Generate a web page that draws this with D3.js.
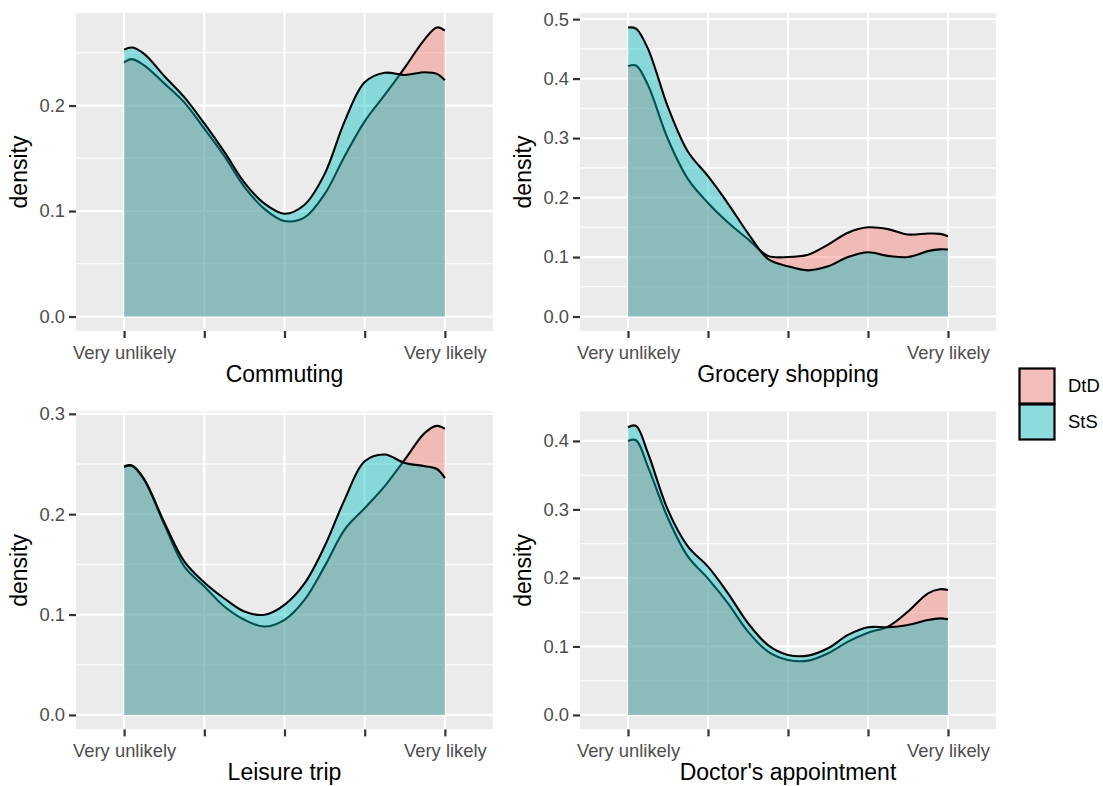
<!DOCTYPE html>
<html><head><meta charset="utf-8">
<script src="https://cdn.jsdelivr.net/npm/d3@7/dist/d3.min.js"></script>
<style>
body{margin:0;background:#fff}
text{font-family:"Liberation Sans",Arial,Helvetica,sans-serif}
</style>
</head><body>
<svg id="chart" width="1103" height="786"></svg>
<script>
// ---- data ----
const xGrid = [1, 1.1, 1.25, 1.5, 1.75, 2, 2.25, 2.5, 2.75, 3, 3.25, 3.5, 3.75, 4, 4.25, 4.5, 4.75, 4.9, 5];
const xBreaks = [1, 2, 3, 4, 5];
const xLabels = ["Very unlikely", "", "", "", "Very likely"];
const seriesNames = ["DtD", "StS"];
const seriesColors = ["#F8766D", "#00BFC4"];
const panelTitles = ["Commuting", "Grocery shopping", "Leisure trip", "Doctor's appointment"];

const commutingDtD = [0.241, 0.244, 0.238, 0.221, 0.203, 0.178, 0.152, 0.123, 0.102, 0.0905, 0.094, 0.116, 0.152, 0.185, 0.210, 0.236, 0.263, 0.274, 0.271];
const commutingStS = [0.253, 0.255, 0.249, 0.228, 0.208, 0.183, 0.156, 0.127, 0.107, 0.0975, 0.106, 0.135, 0.185, 0.222, 0.231, 0.229, 0.2315, 0.230, 0.224];

const groceryDtD = [0.421, 0.422, 0.389, 0.298, 0.231, 0.191, 0.158, 0.130, 0.102, 0.100, 0.104, 0.121, 0.141, 0.150, 0.147, 0.138, 0.1395, 0.139, 0.135];
const groceryStS = [0.486, 0.484, 0.450, 0.352, 0.277, 0.236, 0.190, 0.140, 0.097, 0.0845, 0.0777, 0.0845, 0.100, 0.108, 0.102, 0.100, 0.110, 0.113, 0.1126];

const leisureDtD = [0.247, 0.248, 0.234, 0.190, 0.148, 0.128, 0.108, 0.0948, 0.0881, 0.0948, 0.1147, 0.148, 0.1846, 0.206, 0.228, 0.2544, 0.281, 0.288, 0.285];
const leisureStS = [0.2475, 0.2485, 0.235, 0.192, 0.153, 0.132, 0.116, 0.103, 0.0998, 0.1097, 0.131, 0.168, 0.2145, 0.2527, 0.2594, 0.251, 0.2478, 0.245, 0.236];

const doctorDtD = [0.400, 0.401, 0.362, 0.287, 0.231, 0.199, 0.163, 0.1217, 0.0925, 0.0803, 0.0793, 0.090, 0.107, 0.120, 0.129, 0.151, 0.1776, 0.1835, 0.1825];
const doctorStS = [0.420, 0.422, 0.382, 0.299, 0.2457, 0.2165, 0.1776, 0.134, 0.102, 0.0876, 0.0866, 0.0973, 0.1168, 0.128, 0.128, 0.1314, 0.1387, 0.141, 0.1397];

const yBreaksCommuting = [0, 0.1, 0.2];
const yBreaksGrocery = [0, 0.1, 0.2, 0.3, 0.4, 0.5];
const yBreaksLeisure = [0, 0.1, 0.2, 0.3];
const yBreaksDoctor = [0, 0.1, 0.2, 0.3, 0.4];

// ---- layout ----
const cols = [{left: 76, right: 493}, {left: 580, right: 996}];
const rows = [{top: 13, bottom: 331}, {top: 411.4, bottom: 729.4}];
const panels = [
  {title: panelTitles[0], col: 0, row: 0, data: [commutingDtD, commutingStS], yBreaks: yBreaksCommuting},
  {title: panelTitles[1], col: 1, row: 0, data: [groceryDtD, groceryStS], yBreaks: yBreaksGrocery},
  {title: panelTitles[2], col: 0, row: 1, data: [leisureDtD, leisureStS], yBreaks: yBreaksLeisure},
  {title: panelTitles[3], col: 1, row: 1, data: [doctorDtD, doctorStS], yBreaks: yBreaksDoctor}
];
const fillAlpha = 0.42;
const tickFont = 18.4, titleFont = 23;

const svg = d3.select("#chart");

panels.forEach(p => {
  const c = cols[p.col], r = rows[p.row];
  const x = d3.scaleLinear().domain([0.4, 5.6]).range([c.left, c.right]);
  const maxV = d3.max(p.data.flat());
  const y = d3.scaleLinear().domain([-0.05 * maxV, 1.05 * maxV]).range([r.bottom, r.top]);
  const g = svg.append("g");

  g.append("rect").attr("x", c.left).attr("y", r.top)
    .attr("width", c.right - c.left).attr("height", r.bottom - r.top).attr("fill", "#EBEBEB");

  // minor y grid
  const step = p.yBreaks[1] - p.yBreaks[0];
  const minor = p.yBreaks.map(b => b + step / 2).concat([p.yBreaks[0] - step / 2])
    .filter(v => v > y.domain()[0] && v < y.domain()[1]);
  g.selectAll(".minor").data(minor).join("line")
    .attr("x1", c.left).attr("x2", c.right)
    .attr("y1", d => y(d)).attr("y2", d => y(d))
    .attr("stroke", "#fff").attr("stroke-width", 1.1);
  // major grid
  g.selectAll(".majy").data(p.yBreaks).join("line")
    .attr("x1", c.left).attr("x2", c.right)
    .attr("y1", d => y(d)).attr("y2", d => y(d))
    .attr("stroke", "#fff").attr("stroke-width", 2.2);
  g.selectAll(".majx").data(xBreaks).join("line")
    .attr("y1", r.top).attr("y2", r.bottom)
    .attr("x1", d => x(d)).attr("x2", d => x(d))
    .attr("stroke", "#fff").attr("stroke-width", 2.2);

  const area = d3.area().x((d, i) => x(xGrid[i])).y0(y(0)).y1(d => y(d))
    .curve(d3.curveCatmullRom.alpha(0.5));
  const line = d3.line().x((d, i) => x(xGrid[i])).y(d => y(d))
    .curve(d3.curveCatmullRom.alpha(0.5));

  p.data.forEach((vals, si) => {
    g.append("path").attr("d", area(vals))
      .attr("fill", seriesColors[si]).attr("fill-opacity", fillAlpha);
    g.append("path").attr("d", line(vals))
      .attr("fill", "none").attr("stroke", "#000").attr("stroke-width", 2.1);
  });

  // axes
  const ya = g.append("g").attr("transform", `translate(${c.left},0)`)
    .call(d3.axisLeft(y).tickValues(p.yBreaks).tickFormat(d3.format(".1f")).tickSize(7).tickPadding(4));
  const xa = g.append("g").attr("transform", `translate(0,${r.bottom})`)
    .call(d3.axisBottom(x).tickValues(xBreaks).tickFormat((d, i) => xLabels[i]).tickSize(7).tickPadding(7.5));
  [ya, xa].forEach(a => {
    a.select(".domain").remove();
    a.selectAll(".tick line").attr("stroke", "#333").attr("stroke-width", 2.2);
    a.selectAll(".tick text").attr("fill", "#4D4D4D").style("font-size", tickFont + "px")
      .style("font-family", '"Liberation Sans",Arial,sans-serif');
  });

  // titles
  g.append("text").attr("x", (c.left + c.right) / 2).attr("y", r.bottom + 51)
    .attr("text-anchor", "middle").style("font-size", titleFont + "px").text(p.title);
  g.append("text").attr("transform", `translate(${c.left - 49.3},${(r.top + r.bottom) / 2}) rotate(-90)`)
    .attr("text-anchor", "middle").style("font-size", titleFont + "px").text("density");
});

// legend
const lg = svg.append("g");
seriesNames.forEach((s, i) => {
  const yy = 368.5 + i * 36;
  lg.append("rect").attr("x", 1019.5).attr("y", yy).attr("width", 35).attr("height", 35).attr("fill", "#F2F2F2");
  lg.append("rect").attr("x", 1019.5).attr("y", yy).attr("width", 35).attr("height", 35)
    .attr("fill", seriesColors[i]).attr("fill-opacity", fillAlpha)
    .attr("stroke", "#000").attr("stroke-width", 2.2);
  lg.append("text").attr("x", 1068).attr("y", yy + 17.5).attr("dy", "0.35em")
    .style("font-size", tickFont + "px").text(s);
});
</script>
</body></html>
